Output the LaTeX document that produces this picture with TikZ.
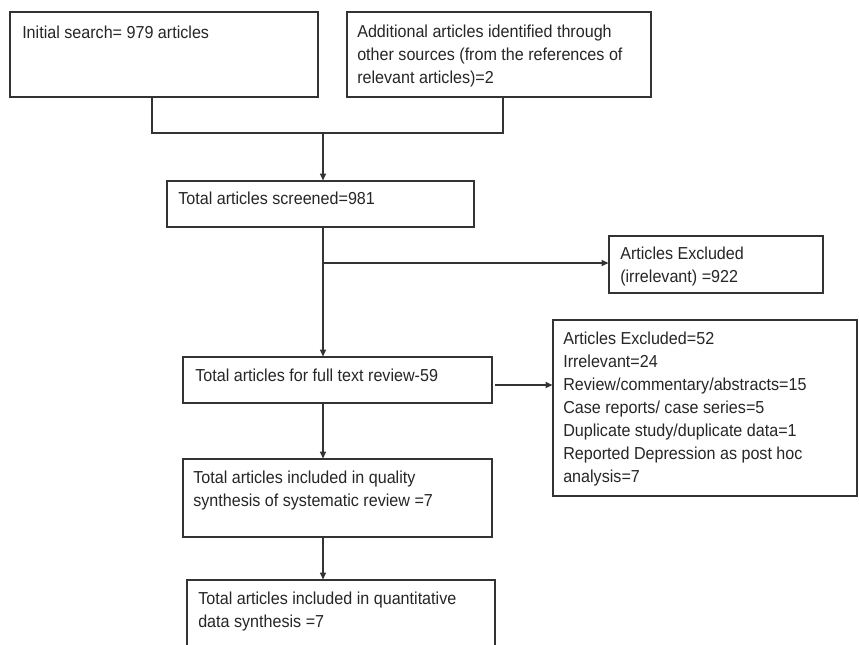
\documentclass[tikz,border=0pt]{standalone}
\usepackage{fontspec}
\setmainfont[FakeStretch=0.93]{Liberation Sans}
\usetikzlibrary{fit,arrows.meta}
\begin{document}
\begin{tikzpicture}[x=0.75pt,y=-0.75pt,
  boxnode/.style={draw=black!80, line width=0.9pt, inner sep=0pt},
  txt/.style={anchor=north west, inner sep=0pt, align=left, text=black!85, font=\fontsize{13}{17.25}\selectfont},
  conn/.style={draw=black!80, line width=0.9pt},
  arr/.style={conn, -{Triangle[length=5pt,width=4.5pt]}}]
\useasboundingbox (0,0) rectangle (859,644);
\clip (0,0) rectangle (859,644);
\fill[white] (0,0) rectangle (859,644);
% boxes
\node[boxnode, fit={(10,12)(318,97)}] (b1) {};
\node[boxnode, fit={(347,12)(651,97)}] (b2) {};
\node[boxnode, fit={(167,181)(474,227)}] (b3) {};
\node[boxnode, fit={(609,236)(823,293)}] (b5) {};
\node[boxnode, fit={(183,357)(492,403)}] (b4) {};
\node[boxnode, fit={(553,320)(857,496)}] (b6) {};
\node[boxnode, fit={(183,459)(492,537)}] (b7) {};
\node[boxnode, fit={(187,580)(495,652)}] (b8) {};
% texts
\node[txt] (t1) at (22,26) {Initial search= 979 articles};
\node[txt] (t2) at (357,25) {Additional articles identified through\\other sources (from the references of\\relevant articles)=2};
\node[txt] (t3) at (178,192) {Total articles screened=981};
\node[txt] (t5) at (620,247) {Articles Excluded\\(irrelevant) =922};
\node[txt] (t4) at (195,369) {Total articles for full text review-59};
\node[txt] (t6) at (563,332) {Articles Excluded=52\\Irrelevant=24\\Review/commentary/abstracts=15\\Case reports/ case series=5\\Duplicate study/duplicate data=1\\Reported Depression as post hoc\\analysis=7};
\node[txt] (t7) at (193,471) {Total articles included in quality\\synthesis of systematic review =7};
\node[txt] (t8) at (198,592) {Total articles included in quantitative\\data synthesis =7};
% connectors
\coordinate (j1) at (152,133);
\coordinate (j2) at (503,133);
\coordinate (jc) at (323,133);
\coordinate (br) at (323,263);
\coordinate (e4) at (495,385);
\draw[conn] (b1.south -| j1) -- (j1) -- (j2) -- (b2.south -| j2);
\draw[arr] (jc) -- (b3.north -| jc);
\draw[arr] (b3.south -| jc) -- (b4.north -| jc);
\draw[arr] (br) -- (b5.west |- br);
\draw[arr] (e4) -- (b6.west |- e4);
\draw[arr] (b4.south -| jc) -- (b7.north -| jc);
\draw[arr] (b7.south -| jc) -- (b8.north -| jc);
\end{tikzpicture}
\end{document}
